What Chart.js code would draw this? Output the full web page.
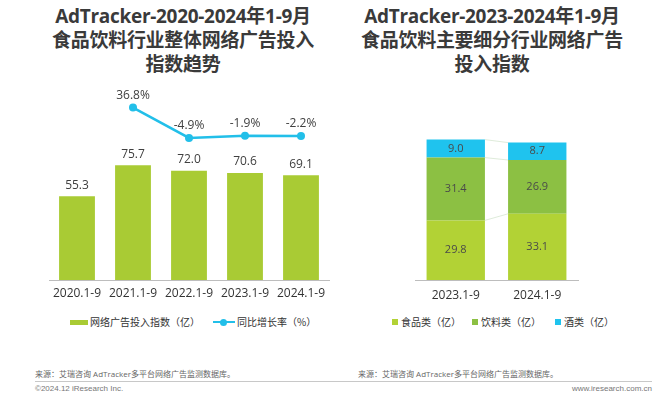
<!DOCTYPE html>
<html><head><meta charset="utf-8">
<script src="https://cdn.jsdelivr.net/npm/chart.js@4.4.0/dist/chart.umd.min.js"></script>
<style>
html,body{margin:0;padding:0;background:#fff;width:660px;height:398px;overflow:hidden;position:relative;font-family:'Open Sans','Noto Sans CJK SC',sans-serif;}
.title{position:absolute;top:4px;text-align:center;font-weight:bold;font-size:19px;line-height:24px;color:#3a3a3a;letter-spacing:-0.3px;}
#t1{left:33px;width:300px;}
#t2{left:342px;width:300px;}
.cw{position:absolute;}
#c1w{left:0;top:80px;width:340px;height:220px;}
#c2w{left:330px;top:80px;width:300px;height:220px;}
.src{position:absolute;top:368px;font-size:8px;color:#666;}
.foot{position:absolute;top:384px;font-size:8px;color:#777;font-family:'Liberation Sans',Arial,sans-serif;}
#line{position:absolute;left:35px;top:381px;width:617px;height:1px;background:#c8c8c8;}
.leg{position:absolute;top:315px;height:14px;line-height:14px;font-size:10px;color:#333;font-family:'Noto Sans CJK SC',sans-serif;white-space:nowrap;}
.leg span.t{position:absolute;top:0;}
.leg i{position:absolute;display:block;}
</style></head><body>
<div class="title" id="t1">AdTracker-2020-2024年1-9月<br>食品饮料行业整体网络广告投入<br>指数趋势</div>
<div class="title" id="t2">AdTracker-2023-2024年1-9月<br>食品饮料主要细分行业网络广告<br>投入指数</div>
<div class="cw" id="c1w"><canvas id="c1"></canvas></div>
<div class="cw" id="c2w"><canvas id="c2"></canvas></div>
<div id="leg1"></div>
<div id="leg2"></div>
<div class="src" style="left:35px">来源：艾瑞咨询 AdTracker多平台网络广告监测数据库。</div>
<div class="src" style="left:358px">来源：艾瑞咨询 AdTracker多平台网络广告监测数据库。</div>
<div id="line"></div>
<div class="foot" style="left:35px">©2024.12 iResearch Inc.</div>
<div class="foot" style="right:8px">www.iresearch.com.cn</div>
<script>
// ---- data ----
const years = ['2020.1-9','2021.1-9','2022.1-9','2023.1-9','2024.1-9'];
const adIndex = [55.3, 75.7, 72.0, 70.6, 69.1];
const growth = [null, 36.8, -4.9, -1.9, -2.2];
const seriesNames1 = ['网络广告投入指数（亿）','同比增长率（%）'];
const subYears = ['2023.1-9','2024.1-9'];
const food = [29.8, 33.1];
const drink = [31.4, 26.9];
const liquor = [9.0, 8.7];
const seriesNames2 = ['食品类（亿）','饮料类（亿）','酒类（亿）'];

const FONT = "'Open Sans','Noto Sans CJK SC',sans-serif";
const barGreen = '#a9cb34';
const cyan = '#22bfe9';
const subColors = ['#b2d235','#8cc043','#1fc3ee'];

// HTML legends
(function(){
  const l1=document.getElementById('leg1');
  l1.innerHTML =
   '<div class="leg" style="left:70px"><i style="left:0;top:5px;width:18px;height:5px;background:'+barGreen+'"></i><span class="t" style="left:20px">'+seriesNames1[0]+'</span></div>'+
   '<div class="leg" style="left:213px"><i style="left:0;top:6px;width:22px;height:2px;background:'+cyan+'"></i><i style="left:7px;top:3.5px;width:7px;height:7px;border-radius:50%;background:'+cyan+'"></i><span class="t" style="left:24px">'+seriesNames1[1]+'</span></div>';
  const l2=document.getElementById('leg2');
  const xs=[392,472,555];
  l2.innerHTML = seriesNames2.map((n,i)=>'<div class="leg" style="left:'+xs[i]+'px"><i style="left:0;top:4px;width:6px;height:6px;background:'+subColors[i]+'"></i><span class="t" style="left:9px">'+n+'</span></div>').join('');
})();

const labelPlugin1 = {
  id:'lbl1',
  afterDatasetsDraw(chart){
    const ctx=chart.ctx;
    ctx.save();
    ctx.font="12px "+FONT; ctx.fillStyle='#404040'; ctx.textAlign='center'; ctx.textBaseline='bottom';
    chart.getDatasetMeta(0).data.forEach((el,i)=>{ ctx.fillText(adIndex[i].toFixed(1), el.x, el.y-5); });
    chart.getDatasetMeta(1).data.forEach((el,i)=>{ if(growth[i]==null) return; ctx.fillText(growth[i].toFixed(1)+'%', el.x, el.y-6); });
    ctx.restore();
  }
};
const labelPlugin2 = {
  id:'lbl2',
  beforeDatasetsDraw(chart){
    const ctx=chart.ctx;
    const m=[0,1,2].map(i=>chart.getDatasetMeta(i).data);
    ctx.save(); ctx.strokeStyle='#d6e6d0'; ctx.lineWidth=0.8;
    for(let d=0; d<3; d++){
      const a=m[d][0], b=m[d][1];
      ctx.beginPath(); ctx.moveTo(a.x+a.width/2, a.y); ctx.lineTo(b.x-b.width/2, b.y); ctx.stroke();
    }
    ctx.restore();
  },
  afterDatasetsDraw(chart){
    const ctx=chart.ctx;
    ctx.save(); ctx.font="11px "+FONT; ctx.fillStyle='#4a4a4a'; ctx.textAlign='center'; ctx.textBaseline='middle';
    const vals=[food,drink,liquor];
    for(let d=0; d<3; d++){
      chart.getDatasetMeta(d).data.forEach((el,i)=>{ ctx.fillText(vals[d][i].toFixed(1), el.x, (el.y+el.base)/2); });
    }
    ctx.restore();
  }
};

new Chart(document.getElementById('c1'),{
  data:{labels:years,datasets:[
    {type:'bar',label:seriesNames1[0],data:adIndex,backgroundColor:barGreen,yAxisID:'y',order:2,categoryPercentage:1,barPercentage:0.64},
    {type:'line',label:seriesNames1[1],data:growth,borderColor:cyan,backgroundColor:cyan,borderWidth:2.5,pointRadius:4,pointBackgroundColor:cyan,pointBorderWidth:0,yAxisID:'y1',order:1,spanGaps:false}
  ]},
  options:{responsive:true,maintainAspectRatio:false,animation:false,
    layout:{padding:{left:49,right:11,top:18,bottom:0}},
    scales:{
      x:{grid:{display:false,drawTicks:false},border:{color:'#bdbdbd',width:1},ticks:{color:'#333',font:{size:12,family:FONT},padding:6},afterFit(s){s.height=20;}},
      y:{display:false,min:0,max:120},
      y1:{display:false,min:-200,max:50}
    },
    plugins:{tooltip:{enabled:false},legend:{display:false}}
  },
  plugins:[labelPlugin1]
});

new Chart(document.getElementById('c2'),{
  type:'bar',
  data:{labels:subYears,datasets:[
    {label:seriesNames2[0],data:food,backgroundColor:subColors[0],categoryPercentage:1,barPercentage:0.716},
    {label:seriesNames2[1],data:drink,backgroundColor:subColors[1],categoryPercentage:1,barPercentage:0.716},
    {label:seriesNames2[2],data:liquor,backgroundColor:subColors[2],categoryPercentage:1,barPercentage:0.716}
  ]},
  options:{responsive:true,maintainAspectRatio:false,animation:false,
    layout:{padding:{left:85,right:52,top:40,bottom:0}},
    scales:{
      x:{stacked:true,grid:{display:false,drawTicks:false},border:{color:'#bdbdbd',width:1},ticks:{color:'#333',font:{size:12,family:FONT},padding:8},afterFit(s){s.height=20;}},
      y:{stacked:true,display:false,min:0,max:80}
    },
    plugins:{tooltip:{enabled:false},legend:{display:false}}
  },
  plugins:[labelPlugin2]
});
</script>
</body></html>
